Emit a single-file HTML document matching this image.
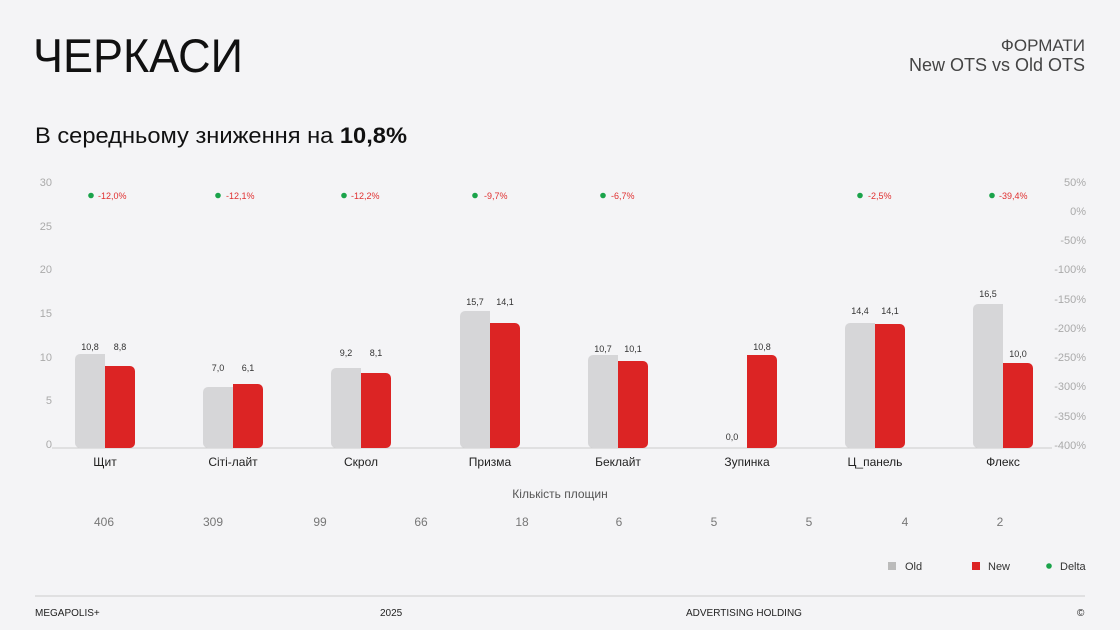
<!DOCTYPE html>
<html><head><meta charset="utf-8"><style>
html,body{margin:0;padding:0;background:#f4f4f6;}
svg{display:block;font-family:"Liberation Sans","Noto Sans CJK SC",sans-serif;}
</style></head><body>
<svg width="1120" height="630" viewBox="0 0 1120 630" xmlns="http://www.w3.org/2000/svg">
<rect width="1120" height="630" fill="#f4f4f6"/>
<text x="33" y="72" font-size="47" fill="#111" textLength="210" lengthAdjust="spacingAndGlyphs">ЧЕРКАСИ</text>
<text x="35" y="143" font-size="22" fill="#111" textLength="372" lengthAdjust="spacingAndGlyphs">В середньому зниження на <tspan font-weight="bold">10,8%</tspan></text>
<text x="1085" y="51" font-size="17" fill="#444" text-anchor="end">ФОРМАТИ</text>
<text x="1085" y="71" font-size="18" fill="#444" text-anchor="end">New OTS vs Old OTS</text>

<g font-size="11" fill="#aaa" text-anchor="end">
<text x="52" y="448">0</text><text x="52" y="404">5</text><text x="52" y="361">10</text>
<text x="52" y="317">15</text><text x="52" y="273">20</text><text x="52" y="230">25</text><text x="52" y="186">30</text>
<text x="1086" y="186">50%</text><text x="1086" y="215">0%</text><text x="1086" y="244">-50%</text>
<text x="1086" y="273">-100%</text><text x="1086" y="303">-150%</text><text x="1086" y="332">-200%</text>
<text x="1086" y="361">-250%</text><text x="1086" y="390">-300%</text><text x="1086" y="420">-350%</text>
<text x="1086" y="449">-400%</text>
</g>
<line x1="52" y1="448" x2="1052" y2="448" stroke="#ccc" stroke-width="1"/>

<g fill="#d6d6d8">
<rect x="75" y="354" width="30" height="94" rx="5"/><rect x="90" y="354" width="15" height="94"/>
<rect x="203" y="387" width="30" height="61" rx="5"/><rect x="218" y="387" width="15" height="61"/>
<rect x="331" y="368" width="30" height="80" rx="5"/><rect x="346" y="368" width="15" height="80"/>
<rect x="460" y="311" width="30" height="137" rx="5"/><rect x="475" y="311" width="15" height="137"/>
<rect x="588" y="355" width="30" height="93" rx="5"/><rect x="603" y="355" width="15" height="93"/>
<rect x="845" y="323" width="30" height="125" rx="5"/><rect x="860" y="323" width="15" height="125"/>
<rect x="973" y="304" width="30" height="144" rx="5"/><rect x="988" y="304" width="15" height="144"/>
</g>
<g fill="#dc2424">
<rect x="105" y="366" width="30" height="82" rx="5"/><rect x="105" y="366" width="15" height="82"/>
<rect x="233" y="384" width="30" height="64" rx="5"/><rect x="233" y="384" width="15" height="64"/>
<rect x="361" y="373" width="30" height="75" rx="5"/><rect x="361" y="373" width="15" height="75"/>
<rect x="490" y="323" width="30" height="125" rx="5"/><rect x="490" y="323" width="15" height="125"/>
<rect x="618" y="361" width="30" height="87" rx="5"/><rect x="618" y="361" width="15" height="87"/>
<rect x="747" y="355" width="30" height="93" rx="5"/><rect x="747" y="355" width="15" height="93"/>
<rect x="875" y="324" width="30" height="124" rx="5"/><rect x="875" y="324" width="15" height="124"/>
<rect x="1003" y="363" width="30" height="85" rx="5"/><rect x="1003" y="363" width="15" height="85"/>
</g>
<g font-size="9" fill="#333" text-anchor="middle">
<text x="90" y="350">10,8</text><text x="120" y="350">8,8</text>
<text x="218" y="371">7,0</text><text x="248" y="371">6,1</text>
<text x="346" y="356">9,2</text><text x="376" y="356">8,1</text>
<text x="475" y="305">15,7</text><text x="505" y="305">14,1</text>
<text x="603" y="352">10,7</text><text x="633" y="352">10,1</text>
<text x="732" y="440">0,0</text><text x="762" y="350">10,8</text>
<text x="860" y="314">14,4</text><text x="890" y="314">14,1</text>
<text x="988" y="297">16,5</text><text x="1018" y="357">10,0</text>
</g>
<g fill="#1aa34a">
<circle cx="91" cy="195.5" r="2.8"/><circle cx="218" cy="195.5" r="2.8"/><circle cx="344" cy="195.5" r="2.8"/>
<circle cx="475" cy="195.5" r="2.8"/><circle cx="603" cy="195.5" r="2.8"/><circle cx="860" cy="195.5" r="2.8"/>
<circle cx="992" cy="195.5" r="2.8"/>
</g>
<g font-size="9" fill="#e03030">
<text x="98" y="199">-12,0%</text><text x="226" y="199">-12,1%</text><text x="351" y="199">-12,2%</text>
<text x="484" y="199">-9,7%</text><text x="611" y="199">-6,7%</text><text x="868" y="199">-2,5%</text>
<text x="999" y="199">-39,4%</text>
</g>
<g font-size="12" fill="#222" text-anchor="middle">
<text x="105" y="466">Щит</text><text x="233" y="466">Сіті-лайт</text><text x="361" y="466">Скрол</text>
<text x="490" y="466">Призма</text><text x="618" y="466">Беклайт</text><text x="747" y="466">Зупинка</text>
<text x="875" y="466">Ц_панель</text><text x="1003" y="466">Флекс</text>
</g>
<text x="560" y="498" font-size="12" fill="#555" text-anchor="middle">Кількість площин</text>
<g font-size="12" fill="#777" text-anchor="middle">
<text x="104" y="526">406</text><text x="213" y="526">309</text><text x="320" y="526">99</text>
<text x="421" y="526">66</text><text x="522" y="526">18</text><text x="619" y="526">6</text>
<text x="714" y="526">5</text><text x="809" y="526">5</text><text x="905" y="526">4</text><text x="1000" y="526">2</text>
</g>
<rect x="888" y="562" width="8" height="8" fill="#bbb"/><text x="905" y="570" font-size="11" fill="#333">Old</text>
<rect x="972" y="562" width="8" height="8" fill="#dc2424"/><text x="988" y="570" font-size="11" fill="#333">New</text>
<circle cx="1049" cy="566" r="2.8" fill="#1aa34a"/><text x="1060" y="570" font-size="11" fill="#333">Delta</text>
<line x1="35" y1="596" x2="1085" y2="596" stroke="#ccc" stroke-width="1"/>
<g font-size="10" fill="#222">
<text x="35" y="616">MEGAPOLIS+</text><text x="380" y="616">2025</text>
<text x="686" y="616">ADVERTISING HOLDING</text><text x="1077" y="616">©</text>
</g>
</svg>
</body></html>
